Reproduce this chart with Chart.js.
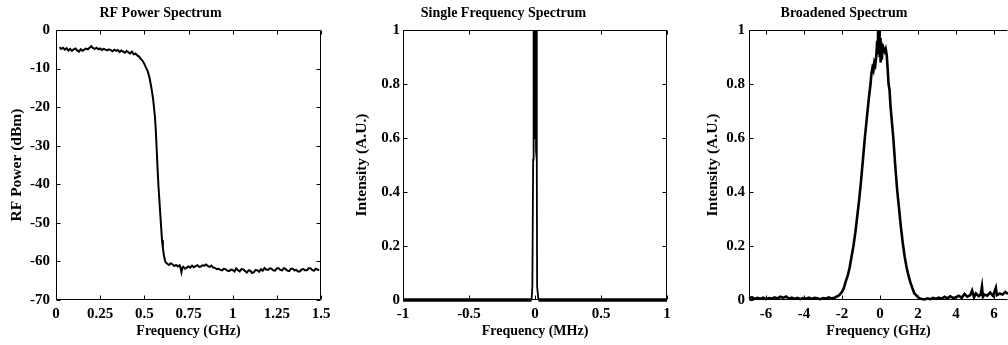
<!DOCTYPE html>
<html>
<head>
<meta charset="utf-8">
<script src="https://cdn.jsdelivr.net/npm/chart.js@4.4.1/dist/chart.umd.min.js"></script>
<style>
  body { margin:0; background:#fff; }
  .panel { position:absolute; top:0; }
</style>
</head>
<body>
<div class="panel" style="left:0px"><canvas id="rf" width="336" height="345"></canvas></div>
<div class="panel" style="left:340px"><canvas id="single" width="340" height="345"></canvas></div>
<div class="panel" style="left:680px"><canvas id="broad" width="328" height="345"></canvas></div>
<script>
/* RF power spectrum (GHz, dBm) */
const rfFreq = [0.02,0.03,0.04,0.05,0.06,0.07,0.08,0.09,0.10,0.11,0.12,0.13,0.14,0.15,0.16,0.17,0.18,0.19,0.20,0.21,0.22,0.23,0.24,0.25,0.26,0.27,0.28,0.29,0.30,0.31,0.32,0.33,0.34,0.35,0.36,0.37,0.38,0.39,0.40,0.41,0.42,0.43,0.44,0.45,0.46,0.47,0.48,0.49,0.50,0.51,0.52,0.53,0.54,0.55,0.56,0.565,0.57,0.575,0.58,0.585,0.59,0.595,0.60,0.605,0.61,0.615,0.62,0.63,0.64,0.65,0.66,0.67,0.68,0.69,0.70,0.705,0.71,0.715,0.72,0.73,0.74,0.75,0.76,0.77,0.78,0.79,0.80,0.81,0.82,0.83,0.84,0.85,0.86,0.87,0.88,0.89,0.90,0.91,0.92,0.93,0.94,0.95,0.96,0.97,0.98,0.99,1.00,1.01,1.02,1.03,1.04,1.05,1.06,1.07,1.08,1.09,1.10,1.11,1.12,1.13,1.14,1.15,1.16,1.17,1.18,1.19,1.20,1.21,1.22,1.23,1.24,1.25,1.26,1.27,1.28,1.29,1.30,1.31,1.32,1.33,1.34,1.35,1.36,1.37,1.38,1.39,1.40,1.41,1.42,1.43,1.44,1.45,1.46,1.47,1.48,1.49,1.50];
const rfPower = [-4.5,-4.9,-4.6,-5.1,-4.7,-5.3,-4.9,-5.4,-5.0,-4.8,-5.3,-5.6,-5.0,-5.4,-5.1,-4.8,-5.0,-4.6,-4.2,-4.7,-4.9,-4.6,-5.0,-4.8,-5.2,-4.9,-5.1,-5.3,-5.0,-5.2,-5.5,-5.1,-5.4,-5.2,-5.7,-5.3,-5.6,-5.9,-5.4,-5.8,-6.1,-5.6,-6.3,-6.1,-6.6,-6.9,-7.5,-8.0,-8.8,-9.8,-10.8,-12.5,-15.0,-18.0,-22.5,-26.0,-31.0,-36.0,-40.5,-44.0,-47.5,-51.0,-54.5,-56.5,-58.2,-59.4,-60.2,-60.6,-60.9,-60.5,-60.8,-61.2,-60.9,-61.3,-61.0,-61.6,-62.8,-61.7,-61.4,-61.9,-61.6,-61.3,-61.6,-61.1,-61.5,-61.2,-61.0,-61.4,-61.3,-61.0,-61.1,-60.8,-61.2,-61.4,-61.1,-61.6,-61.7,-62.0,-61.9,-62.2,-62.3,-61.9,-62.0,-62.4,-62.5,-62.1,-62.2,-62.6,-61.8,-62.3,-62.6,-62.0,-62.1,-62.5,-62.9,-62.3,-62.4,-63.0,-62.8,-62.2,-62.3,-62.7,-62.0,-62.4,-61.7,-62.1,-62.2,-61.8,-61.9,-62.3,-62.4,-61.8,-61.8,-62.2,-62.3,-61.7,-62.0,-62.4,-62.5,-61.9,-61.9,-62.3,-62.2,-62.6,-62.6,-62.1,-62.0,-62.3,-62.3,-61.8,-61.8,-62.2,-62.4,-61.9,-62.1,-62.3];

/* single frequency spectrum (MHz, a.u.) */
const singleFreq = [-1,-0.026,-0.02,-0.016,-0.014,-0.013,-0.008,-0.004,0.0,0.004,0.008,0.013,0.014,0.016,0.02,0.026,1];
const singleInt = [0,0,0.05,0.05,0.52,1,0.55,1,0.6,1,0.55,1,0.52,0.05,0.05,0,0];

/* broadened spectrum (GHz, a.u.) */
const broadFreq = [-6.9,-6.75,-6.6,-6.45,-6.3,-6.15,-6.0,-5.85,-5.7,-5.55,-5.4,-5.25,-5.1,-4.95,-4.8,-4.65,-4.5,-4.35,-4.2,-4.05,-3.9,-3.75,-3.6,-3.45,-3.3,-3.15,-3.0,-2.85,-2.7,-2.55,-2.4,-2.3,-2.2,-2.1,-2.0,-1.9,-1.8,-1.7,-1.6,-1.5,-1.4,-1.3,-1.2,-1.1,-1.0,-0.9,-0.8,-0.7,-0.6,-0.5,-0.45,-0.4,-0.35,-0.3,-0.25,-0.2,-0.15,-0.12,-0.1,-0.07,-0.05,-0.02,0.0,0.03,0.06,0.1,0.13,0.17,0.2,0.25,0.3,0.35,0.4,0.45,0.5,0.55,0.6,0.7,0.8,0.9,1.0,1.1,1.2,1.3,1.4,1.5,1.6,1.7,1.8,1.9,2.0,2.1,2.2,2.35,2.5,2.65,2.8,2.95,3.1,3.25,3.4,3.55,3.7,3.85,4.0,4.15,4.3,4.45,4.6,4.75,4.85,4.95,5.05,5.2,5.3,5.37,5.42,5.5,5.65,5.8,5.95,6.1,6.15,6.3,6.45,6.6,6.74];
const broadInt = [0.006,0.01,0.004,0.008,0.005,0.009,0.003,0.007,0.005,0.01,0.006,0.012,0.008,0.013,0.005,0.009,0.004,0.008,0.003,0.007,0.005,0.009,0.004,0.008,0.006,0.003,0.007,0.005,0.01,0.006,0.008,0.012,0.015,0.022,0.03,0.045,0.07,0.09,0.12,0.16,0.2,0.25,0.31,0.37,0.44,0.52,0.6,0.67,0.74,0.8,0.84,0.86,0.85,0.88,0.87,0.9,0.96,0.91,1.0,0.93,0.99,0.9,0.97,0.88,0.95,0.89,0.94,0.92,0.93,0.92,0.93,0.91,0.86,0.8,0.78,0.72,0.68,0.6,0.5,0.41,0.34,0.27,0.21,0.16,0.12,0.09,0.065,0.045,0.025,0.018,0.01,0.006,0.004,0.002,0.006,0.003,0.008,0.004,0.009,0.005,0.012,0.006,0.014,0.007,0.01,0.016,0.008,0.022,0.012,0.018,0.035,0.01,0.024,0.014,0.02,0.05,0.012,0.02,0.016,0.028,0.015,0.045,0.018,0.024,0.02,0.03,0.022];

const FONT = "'Liberation Serif', 'Times New Roman', serif";

// MATLAB-like frame: box with inward ticks on every side
const frameTicks = {
  id: "frameTicks",
  afterDatasetsDraw(chart, args, opts) {
    const { ctx, chartArea: a, scales: { x, y } } = chart;
    const L = Math.round(a.left) + 0.5, R = Math.round(a.right) - 0.5;
    const T = Math.round(a.top) + 0.5, B = Math.round(a.bottom) - 0.5;
    const len = 4;
    ctx.save();
    ctx.strokeStyle = "#000";
    ctx.lineWidth = 1;
    ctx.beginPath();
    ctx.moveTo(R, T); ctx.lineTo(L, T); ctx.lineTo(L, B); ctx.lineTo(R, B);
    if (!opts.openRight) { ctx.moveTo(R, T); ctx.lineTo(R, B); }
    x.ticks.forEach(t => {
      const px = Math.round(x.getPixelForValue(t.value)) + 0.5;
      ctx.moveTo(px, B); ctx.lineTo(px, B - len);
      ctx.moveTo(px, T); ctx.lineTo(px, T + len);
    });
    y.ticks.forEach(t => {
      const py = Math.round(y.getPixelForValue(t.value)) + 0.5;
      ctx.moveTo(L, py); ctx.lineTo(L + len, py);
      if (!opts.openRight) { ctx.moveTo(R, py); ctx.lineTo(R - len, py); }
    });
    ctx.stroke();
    ctx.restore();
  }
};

const fmt = v => String(Math.round(v * 100) / 100);

function makeChart(id, xs, ys, cfg) {
  const pts = xs.map((v, i) => ({ x: v, y: ys[i] }));
  return new Chart(document.getElementById(id), {
    type: "line",
    data: {
      datasets: [{
        data: pts,
        borderColor: "#000",
        borderWidth: cfg.lineWidth,
        pointRadius: 0,
        tension: 0,
        clip: 4,
        segment: cfg.segment
      }]
    },
    options: {
      responsive: false,
      animation: false,
      devicePixelRatio: 1,
      layout: { padding: { left: 0, right: cfg.padRight, top: 0, bottom: 0 } },
      plugins: {
        legend: { display: false },
        tooltip: { enabled: false },
        title: {
          display: true,
          text: cfg.title,
          color: "#000",
          font: { family: FONT, size: 14, weight: "bold", lineHeight: 1 },
          padding: { top: 6, bottom: 10 }
        },
        frameTicks: { openRight: !!cfg.openRight }
      },
      scales: {
        x: {
          type: "linear",
          min: cfg.xMin, max: cfg.xMax,
          grid: { display: false, drawTicks: false },
          border: { display: false },
          ticks: {
            stepSize: cfg.xStep, includeBounds: false, color: "#000", padding: 5,
            maxRotation: 0, autoSkip: false, callback: fmt,
            font: { family: FONT, size: 15, weight: "bold" }
          },
          title: {
            display: true, text: cfg.xTitle, color: "#000",
            font: { family: FONT, size: 14, weight: "bold" },
            padding: { top: 0, bottom: 5 }
          },
          afterFit(s) { s.height = 45; s.paddingLeft = 0; s.paddingRight = 0; }
        },
        y: {
          type: "linear",
          min: cfg.yMin, max: cfg.yMax,
          grid: { display: false, drawTicks: false },
          border: { display: false },
          ticks: {
            stepSize: cfg.yStep, color: "#000", padding: cfg.yTickPad, callback: fmt,
            font: { family: FONT, size: 15, weight: "bold" }
          },
          title: {
            display: true, text: cfg.yTitle, color: "#000",
            font: { family: FONT, size: 15.5, weight: "bold" },
            padding: { top: cfg.yTitlePad, bottom: 0 }
          },
          afterFit(s) { s.width = cfg.yWidth; s.paddingTop = 0; s.paddingBottom = 0; }
        }
      }
    },
    plugins: [frameTicks]
  });
}

makeChart("rf", rfFreq, rfPower, {
  title: "RF Power Spectrum", xTitle: "Frequency (GHz)", yTitle: "RF Power (dBm)",
  xMin: 0, xMax: 1.5, xStep: 0.25, yMin: -70, yMax: 0, yStep: 10,
  yWidth: 56, padRight: 15, lineWidth: 2, yTickPad: 6, yTitlePad: 8
});

makeChart("single", singleFreq, singleInt, {
  title: "Single Frequency Spectrum", xTitle: "Frequency (MHz)", yTitle: "Intensity (A.U.)",
  xMin: -1, xMax: 1, xStep: 0.5, yMin: 0, yMax: 1, yStep: 0.2,
  yWidth: 63, padRight: 13, lineWidth: 1.8, yTickPad: 3, yTitlePad: 13,
  segment: { borderWidth: c => (c.p0.parsed.y === 0 && c.p1.parsed.y === 0) ? 3.5 : 1.8 }
});

makeChart("broad", broadFreq, broadInt, {
  title: "Broadened Spectrum", xTitle: "Frequency (GHz)", yTitle: "Intensity (A.U.)",
  xMin: -6.9, xMax: 6.74, xStep: 2, yMin: 0, yMax: 1, yStep: 0.2,
  yWidth: 69, padRight: 0, lineWidth: 2.6, openRight: true, yTickPad: 4, yTitlePad: 24
});
</script>
</body>
</html>
